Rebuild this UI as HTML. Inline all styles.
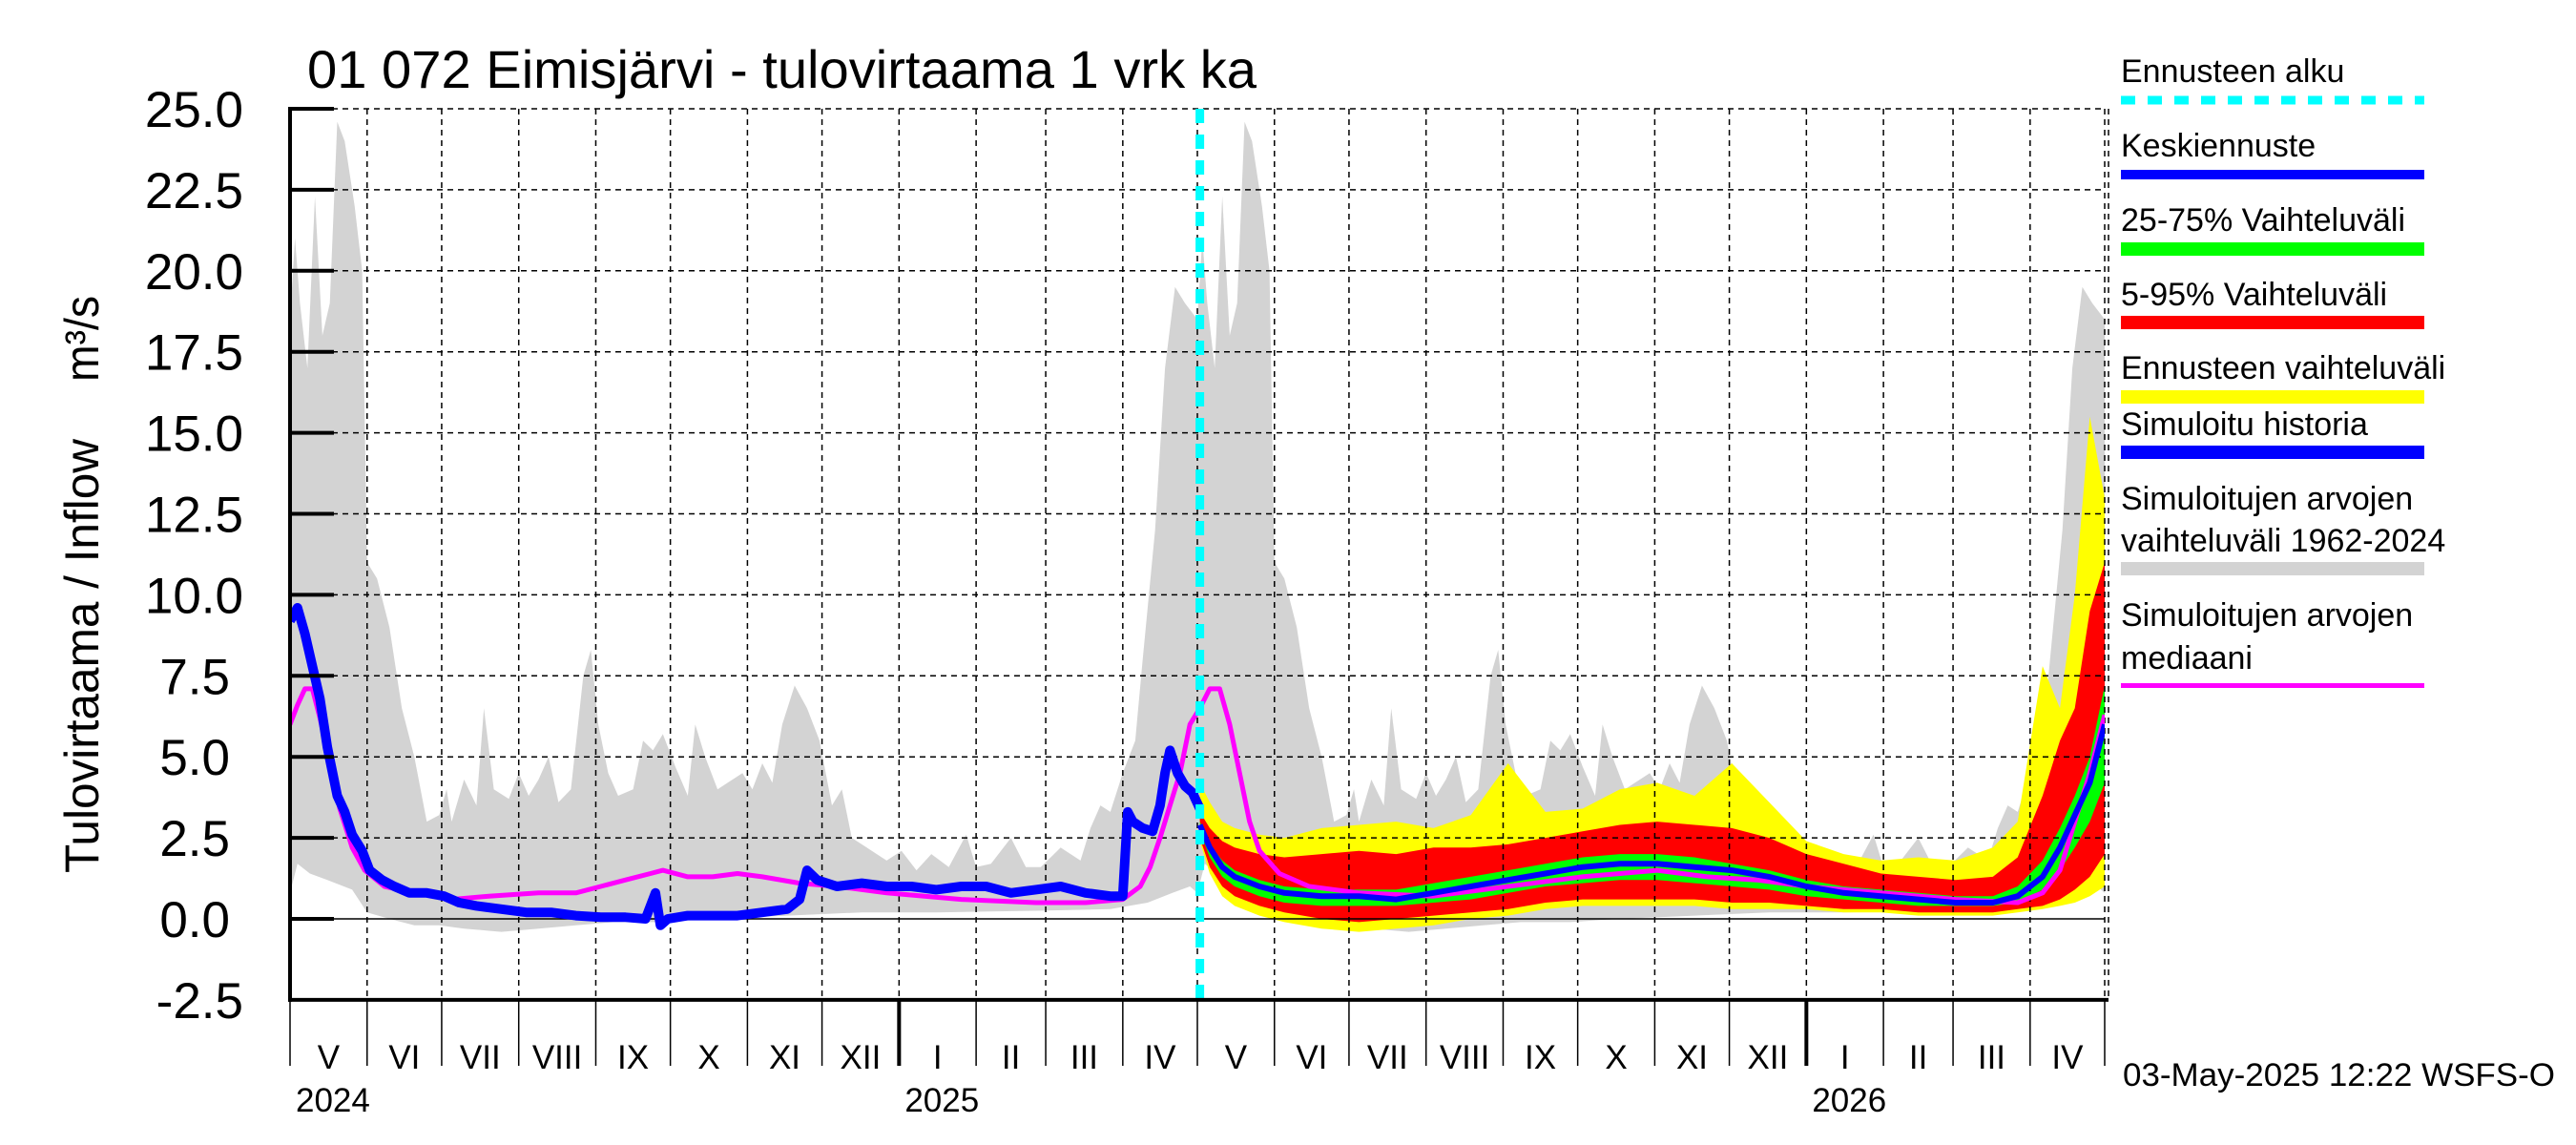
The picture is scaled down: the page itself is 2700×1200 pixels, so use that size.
<!DOCTYPE html>
<html><head><meta charset="utf-8"><style>
html,body{margin:0;padding:0;background:#fff;}
svg{display:block;font-family:"Liberation Sans",Arial,sans-serif;}
</style></head><body>
<svg id="chart" width="2700" height="1200" viewBox="0 0 2700 1200" xmlns="http://www.w3.org/2000/svg">
<rect x="0" y="0" width="2700" height="1200" fill="#fff"/>
<text x="322" y="92" font-size="56" textLength="995" lengthAdjust="spacingAndGlyphs">01 072 Eimisjärvi - tulovirtaama 1 vrk ka</text>
<text transform="translate(103,915) rotate(-90)" font-size="50" textLength="455" lengthAdjust="spacingAndGlyphs">Tulovirtaama / Inflow</text>
<text transform="translate(103,400) rotate(-90)" font-size="50" textLength="90" lengthAdjust="spacingAndGlyphs">m³/s</text>
<g id="bands"></g>
<g id="grid"></g>
<g id="lines"></g>
<g id="axes"></g>
<g id="legend">
  <text x="2223" y="86" font-size="34">Ennusteen alku</text>
  <line x1="2223" y1="105" x2="2541" y2="105" stroke="#00ffff" stroke-width="9" stroke-dasharray="15 13"/>
  <text x="2223" y="164" font-size="34">Keskiennuste</text>
  <rect x="2223" y="178" width="318" height="10" fill="#0000ff"/>
  <text x="2223" y="242" font-size="34">25-75% Vaihteluväli</text>
  <rect x="2223" y="254" width="318" height="14" fill="#00ff00"/>
  <text x="2223" y="320" font-size="34">5-95% Vaihteluväli</text>
  <rect x="2223" y="331" width="318" height="14" fill="#ff0000"/>
  <text x="2223" y="397" font-size="34">Ennusteen vaihteluväli</text>
  <rect x="2223" y="409" width="318" height="14" fill="#ffff00"/>
  <text x="2223" y="456" font-size="34">Simuloitu historia</text>
  <rect x="2223" y="467" width="318" height="14" fill="#0000ff"/>
  <text x="2223" y="534" font-size="34">Simuloitujen arvojen</text>
  <text x="2223" y="578" font-size="34">vaihteluväli 1962-2024</text>
  <rect x="2223" y="589" width="318" height="14" fill="#d3d3d3"/>
  <text x="2223" y="656" font-size="34">Simuloitujen arvojen</text>
  <text x="2223" y="701" font-size="34">mediaani</text>
  <rect x="2223" y="716" width="318" height="5" fill="#ff00ff"/>
</g>
<text x="2225" y="1138" font-size="34" textLength="453" lengthAdjust="spacingAndGlyphs">03-May-2025 12:22 WSFS-O</text>
</svg>
<script>
// ---- data (days since 2024-05-01, values m3/s) ----
const yTicks = [25.0,22.5,20.0,17.5,15.0,12.5,10.0,7.5,5.0,2.5,0.0,-2.5];
const yTickLabels = ["25.0","22.5","20.0","17.5","15.0","12.5","10.0","7.5","5.0","2.5","0.0","-2.5"];
const monthLabels = ["V","VI","VII","VIII","IX","X","XI","XII","I","II","III","IV","V","VI","VII","VIII","IX","X","XI","XII","I","II","III","IV"];
const yearLabels = ["2024","2025","2026"];
const forecastStartDay = 366;

const grayDays = [0,2,4,7,10,13,16,19,22,26,29,31,35,40,45,50,55,60,63,65,70,75,78,82,88,92,96,100,104,108,113,118,121,124,128,132,138,142,146,150,155,160,163,167,172,178,182,186,190,194,198,203,208,213,218,222,226,232,240,246,252,258,265,272,276,282,290,296,302,310,318,322,326,330,335,340,343,348,352,356,360,365];
const grayHi = [18.5,21,19,17,22.3,18,19,24.6,24,22,20,11,10.5,9,6.5,5,3,3.2,4,3,4.3,3.5,6.5,4,3.7,4.5,3.8,4.3,5,3.6,4,7.5,8.3,6,4.5,3.8,4,5.5,5.2,5.7,4.7,3.8,6,5,4,4.3,4.5,4,4.8,4.2,6,7.2,6.5,5.5,3.5,4,2.5,2.2,1.8,2.1,1.5,2,1.6,2.6,1.6,1.7,2.5,1.6,1.6,2.2,1.8,2.8,3.5,3.3,4.5,5.5,8,12,17,19.5,19,18.5];
const grayLoDays = [0,3,8,15,25,31,40,50,60,70,85,100,115,130,150,170,200,230,260,300,330,345,355,362,365];
const grayLo = [0.8,1.7,1.4,1.2,0.9,0.2,0.0,-0.2,-0.2,-0.3,-0.4,-0.3,-0.2,-0.1,-0.1,0.0,0.1,0.2,0.2,0.25,0.3,0.5,0.8,1.0,0.8];

const fcDays = [366,370,375,380,390,400,415,430,445,460,475,490,505,520,535,550,565,580,595,610,625,640,655,670,685,695,705,712,718,724,730];
const yelHi = [4.2,3.6,3.0,2.8,2.6,2.5,2.8,2.9,3.0,2.8,3.2,4.8,3.3,3.4,4.0,4.2,3.8,4.8,3.6,2.4,2.0,1.8,1.9,1.8,2.2,3.0,7.8,6.5,10,15.5,13];
const redHi = [3.3,2.8,2.4,2.2,2.0,1.9,2.0,2.1,2.0,2.2,2.2,2.3,2.5,2.7,2.9,3.0,2.9,2.8,2.5,2.0,1.7,1.4,1.3,1.2,1.3,1.9,3.8,5.5,6.5,9.5,11];
const grnHi = [3.0,2.3,1.8,1.5,1.2,1.0,0.9,0.9,0.9,1.1,1.3,1.5,1.7,1.9,2.0,2.0,1.9,1.7,1.5,1.2,1.0,0.9,0.8,0.7,0.7,1.0,1.8,2.8,3.8,5,7.2];
const meanVals = [2.9,2.2,1.6,1.3,1.0,0.8,0.7,0.7,0.6,0.8,1.0,1.2,1.4,1.6,1.7,1.7,1.6,1.5,1.3,1.0,0.8,0.7,0.6,0.5,0.5,0.7,1.3,2.2,3.2,4.2,6];
const grnLo = [2.7,1.9,1.3,1.0,0.7,0.5,0.4,0.4,0.4,0.5,0.6,0.8,1.0,1.1,1.2,1.2,1.1,1.0,0.9,0.7,0.6,0.5,0.4,0.4,0.4,0.5,0.9,1.5,2.2,3.0,4.2];
const redLo = [2.5,1.6,1.0,0.7,0.4,0.2,0.0,-0.1,0.0,0.1,0.2,0.3,0.5,0.6,0.6,0.6,0.6,0.5,0.5,0.4,0.3,0.3,0.2,0.2,0.2,0.3,0.4,0.6,0.9,1.3,2.0];
const yelLo = [2.4,1.4,0.7,0.4,0.1,-0.1,-0.3,-0.4,-0.3,-0.2,0.0,0.1,0.3,0.4,0.4,0.4,0.4,0.3,0.3,0.3,0.2,0.2,0.1,0.1,0.1,0.2,0.3,0.4,0.5,0.7,1.0];

const histDays = [0,3,6,9,12,15,19,22,25,29,32,37,42,48,55,62,68,75,85,95,105,115,125,135,143,147,149,152,160,170,180,190,200,205,208,212,220,230,240,250,260,270,280,290,300,310,320,330,335,337,339,343,347,350,352,354,357,360,363,366];
const histVals = [9.2,9.6,8.8,7.8,6.8,5.3,3.8,3.3,2.6,2.1,1.5,1.2,1.0,0.8,0.8,0.7,0.5,0.4,0.3,0.2,0.2,0.1,0.05,0.05,0.0,0.8,-0.2,0.0,0.1,0.1,0.1,0.2,0.3,0.6,1.5,1.2,1.0,1.1,1.0,1.0,0.9,1.0,1.0,0.8,0.9,1.0,0.8,0.7,0.7,3.3,3.0,2.8,2.7,3.5,4.5,5.2,4.5,4.1,3.9,3.4];

const medDays = [0,3,6,9,12,16,20,25,30,38,50,65,80,100,115,125,135,145,150,160,170,180,190,205,220,240,270,300,320,335,342,346,350,354,358,362,366,370,374,378,382,386,390,398,410,430,460,490,520,550,570,590,610,640,670,695,705,712,718,724,730];
const medVals = [6.0,6.6,7.1,7.1,6.2,4.8,3.4,2.2,1.5,1.0,0.8,0.6,0.7,0.8,0.8,1.0,1.2,1.4,1.5,1.3,1.3,1.4,1.3,1.1,1.0,0.8,0.6,0.5,0.5,0.6,1.0,1.6,2.5,3.5,4.5,6.0,6.5,7.1,7.1,6.0,4.5,3.0,2.1,1.4,1.0,0.8,0.7,1.0,1.3,1.5,1.3,1.2,1.0,0.8,0.6,0.5,0.8,1.5,3.0,4.5,6.3];

// ---- axes ----
const X0 = 304, X1 = 2206, TOTAL_DAYS = 730;
const YTOP = 114, YZERO = 963;
const PX_PER_UNIT = (YZERO - YTOP) / 25;
function xs(d){ return X0 + d * (X1 - X0) / TOTAL_DAYS; }
function ys(v){ return YZERO - v * PX_PER_UNIT; }
const YBOT = ys(-2.5);
const NS = "http://www.w3.org/2000/svg";
function mk(tag, attrs, parent){
  const e = document.createElementNS(NS, tag);
  for (const k in attrs) e.setAttribute(k, attrs[k]);
  parent.appendChild(e);
  return e;
}
function pts(days, vals){ const o=[]; const n=Math.min(days.length, vals.length); for(let i=0;i<n;i++) o.push(xs(days[i]).toFixed(1)+","+ys(vals[i]).toFixed(1)); return o; }
function band(daysHi, hi, daysLo, lo){
  return pts(daysHi, hi).concat(pts(daysLo, lo).reverse()).join(" ");
}
const bands = document.getElementById("bands");
const grid = document.getElementById("grid");
const lines = document.getElementById("lines");
const axes = document.getElementById("axes");

const defs = mk("defs", {}, document.getElementById("chart"));
const cp = mk("clipPath", {id:"plotclip"}, defs);
mk("rect", {x:X0, y:YTOP, width:X1-X0, height:YBOT-YTOP}, cp);
bands.setAttribute("clip-path","url(#plotclip)");
lines.setAttribute("clip-path","url(#plotclip)");

for (let yr = 0; yr < 2; yr++){
  const off = yr * 365;
  const g = mk("polygon", {points: band(grayDays.map(d=>d+off), grayHi, grayLoDays.map(d=>d+off), grayLo), fill:"#d3d3d3"}, bands);
  
  
}
const yb = mk("polygon", {points: band(fcDays, yelHi, fcDays, yelLo), fill:"#ffff00"}, bands);


const rb = mk("polygon", {points: band(fcDays, redHi, fcDays, redLo), fill:"#ff0000"}, bands);


const gb = mk("polygon", {points: band(fcDays, grnHi, fcDays, grnLo), fill:"#00ff00"}, bands);



const start = Date.UTC(2024,4,1);
const bounds = [];
for (let i = 0; i <= 24; i++){
  const d = Math.round((Date.UTC(2024, 4 + i, 1) - start) / 86400000);
  bounds.push({d: d, month: (4 + i) % 12});
}
for (let i = 0; i < yTicks.length; i++){
  const v = yTicks[i]; const y = ys(v);
  if (v === -2.5) continue;
  const gl = mk("line", {x1:X0, y1:y, x2:X1, y2:y, stroke:"#000", "stroke-width": 1.5, "stroke-dasharray": v===0 ? "none" : "6 5"}, grid);
  
  
}
for (let i = 1; i < bounds.length; i++){
  const x = xs(bounds[i].d);
  const vl = mk("line", {x1:x, y1:YTOP, x2:x, y2:YBOT, stroke:"#000", "stroke-width":1.5, "stroke-dasharray":"6 5"}, grid);
  
  
}
const rgl = mk("line", {x1:X1+4, y1:YTOP, x2:X1+4, y2:YBOT, stroke:"#000", "stroke-width":1.5, "stroke-dasharray":"6 5"}, grid);



const med = mk("polyline", {points: pts(medDays, medVals).join(" "), fill:"none", stroke:"#ff00ff", "stroke-width":5, "stroke-linejoin":"round"}, lines);


const hist = mk("polyline", {points: pts(histDays, histVals).join(" "), fill:"none", stroke:"#0000ff", "stroke-width":10, "stroke-linejoin":"round"}, lines);


const mean = mk("polyline", {points: pts(fcDays, meanVals).join(" "), fill:"none", stroke:"#0000ff", "stroke-width":6, "stroke-linejoin":"round"}, lines);


const cy = mk("line", {x1:xs(forecastStartDay), y1:YTOP, x2:xs(forecastStartDay), y2:YBOT, stroke:"#00ffff", "stroke-width":9, "stroke-dasharray":"15 12"}, axes);



const la = mk("line", {x1:X0, y1:YTOP-2, x2:X0, y2:YBOT+2, stroke:"#000", "stroke-width":4}, axes);


const ba = mk("line", {x1:X0-2, y1:YBOT, x2:X1+4, y2:YBOT, stroke:"#000", "stroke-width":4}, axes);


for (let i = 0; i < yTicks.length; i++){
  const y = ys(yTicks[i]);
  if (yTicks[i] !== -2.5){
    const tk = mk("line", {x1:X0, y1:y, x2:X0+46, y2:y, stroke:"#000", "stroke-width":4}, axes);
    
    
  }
  const lab = yTickLabels[i];
  const t = mk("text", {x: lab.length >= 4 ? 255 : 241, y: y + 19, "font-size":53, "text-anchor":"end"}, axes);
  t.textContent = lab;
  
  
}
for (let i = 0; i < bounds.length; i++){
  const x = xs(bounds[i].d);
  const isYear = bounds[i].month === 0;
  const mt = mk("line", {x1:x, y1:YBOT, x2:x, y2:1117, stroke:"#000", "stroke-width": isYear ? 4 : 1.5}, axes);
  
  
  if (i < bounds.length - 1){
    const cx = (x + xs(bounds[i+1].d)) / 2;
    const ml = mk("text", {x:cx, y:1120, "font-size":35, "text-anchor":"middle"}, axes);
    ml.textContent = monthLabels[i];
    
    
  }
}
const yearDays = [0, Math.round((Date.UTC(2025,0,1)-start)/86400000), Math.round((Date.UTC(2026,0,1)-start)/86400000)];
for (let i = 0; i < yearLabels.length; i++){
  const yl = mk("text", {x: xs(yearDays[i]) + 6, y:1165, "font-size":35}, axes);
  yl.textContent = yearLabels[i];
  
  
}
</script>
</body></html>
